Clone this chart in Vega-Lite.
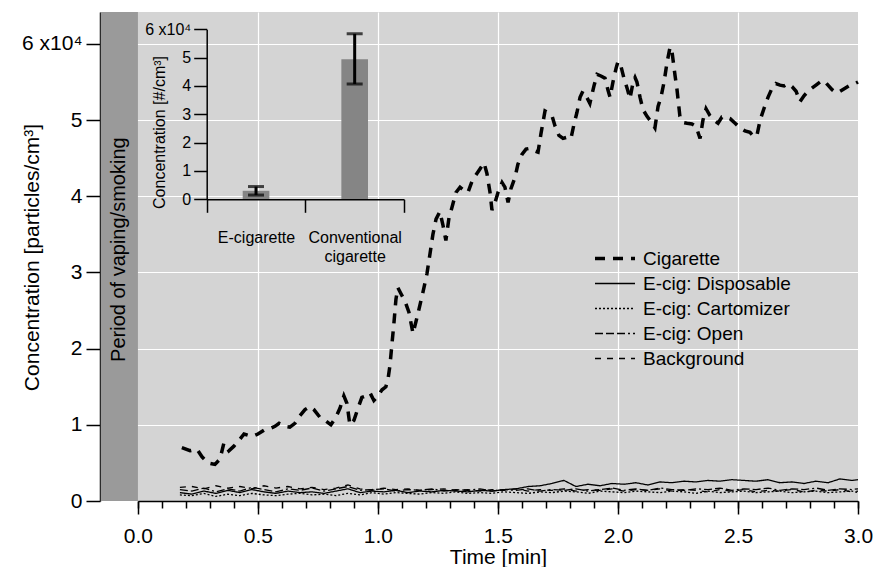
{
  "$schema": "https://vega.github.io/schema/vega-lite/v6.json",
  "width": 758,
  "height": 489,
  "autosize": {"type": "none"},
  "padding": {"left": 100, "top": 12, "right": 16, "bottom": 66},
  "background": "white",
  "config": {
    "view": {"stroke": null, "fill": "#d4d4d4"},
    "font": "Liberation Sans",
    "axis": {
      "labelFont": "Liberation Sans", "titleFont": "Liberation Sans",
      "labelColor": "black", "titleColor": "black", "tickColor": "black", "domainColor": "black",
      "tickWidth": 1.5, "domainWidth": 1.5, "titleFontWeight": "normal",
      "gridColor": "white", "gridWidth": 1.2, "gridOpacity": 1,
      "labelFlush": false, "labelOverlap": false
    },
    "legend": {
      "orient": "none", "legendX": 493, "legendY": 234,
      "symbolType": "stroke", "symbolSize": 1600, "symbolStrokeColor": "black",
      "labelFont": "Liberation Sans", "labelFontSize": 19, "labelColor": "black",
      "clipHeight": 25, "rowPadding": 0, "labelOffset": 6, "padding": 0, "symbolOffset": 0
    }
  },
  "datasets": {
    "cig": [
      {"t":0.183,"v":7000},{"t":0.217,"v":6600},{"t":0.246,"v":6800},{"t":0.267,"v":5800},{"t":0.292,"v":5000},
      {"t":0.321,"v":4800},{"t":0.342,"v":5500},{"t":0.358,"v":7600},{"t":0.379,"v":6600},{"t":0.4,"v":7200},
      {"t":0.417,"v":7800},{"t":0.442,"v":8800},{"t":0.463,"v":8600},{"t":0.479,"v":8500},{"t":0.5,"v":8800},
      {"t":0.525,"v":9300},{"t":0.55,"v":9500},{"t":0.571,"v":9800},{"t":0.588,"v":10200},{"t":0.613,"v":9800},
      {"t":0.633,"v":9700},{"t":0.654,"v":10200},{"t":0.675,"v":11200},{"t":0.696,"v":12000},{"t":0.717,"v":12400},
      {"t":0.733,"v":12000},{"t":0.758,"v":11000},{"t":0.783,"v":10500},{"t":0.804,"v":10000},{"t":0.825,"v":11000},
      {"t":0.842,"v":12200},{"t":0.858,"v":13800},{"t":0.871,"v":12800},{"t":0.883,"v":10000},{"t":0.9,"v":10600},
      {"t":0.917,"v":12200},{"t":0.933,"v":13600},{"t":0.95,"v":13800},{"t":0.967,"v":14200},{"t":0.983,"v":13200},
      {"t":1.0,"v":13800},{"t":1.017,"v":14600},{"t":1.033,"v":15000},{"t":1.042,"v":16000},{"t":1.05,"v":17800},
      {"t":1.058,"v":20500},{"t":1.067,"v":23500},{"t":1.075,"v":26500},{"t":1.083,"v":28000},{"t":1.096,"v":27200},
      {"t":1.113,"v":26200},{"t":1.129,"v":24800},{"t":1.146,"v":22000},{"t":1.158,"v":23500},{"t":1.171,"v":25200},
      {"t":1.188,"v":27500},{"t":1.204,"v":29800},{"t":1.217,"v":32500},{"t":1.229,"v":35000},{"t":1.242,"v":37000},
      {"t":1.258,"v":38000},{"t":1.271,"v":36200},{"t":1.283,"v":34200},{"t":1.296,"v":37200},{"t":1.308,"v":38500},
      {"t":1.325,"v":40500},{"t":1.342,"v":41200},{"t":1.358,"v":40800},{"t":1.375,"v":40500},{"t":1.392,"v":42000},
      {"t":1.408,"v":42800},{"t":1.425,"v":43600},{"t":1.442,"v":44400},{"t":1.454,"v":43000},{"t":1.467,"v":40500},
      {"t":1.475,"v":38200},{"t":1.488,"v":39200},{"t":1.5,"v":40500},{"t":1.517,"v":41800},{"t":1.529,"v":41200},
      {"t":1.542,"v":39200},{"t":1.554,"v":41000},{"t":1.571,"v":42500},{"t":1.583,"v":44200},{"t":1.6,"v":45500},
      {"t":1.617,"v":46200},{"t":1.633,"v":46300},{"t":1.65,"v":46000},{"t":1.667,"v":45800},{"t":1.679,"v":48200},
      {"t":1.696,"v":51200},{"t":1.708,"v":51000},{"t":1.725,"v":50600},{"t":1.738,"v":49200},{"t":1.754,"v":48000},
      {"t":1.771,"v":47600},{"t":1.792,"v":47800},{"t":1.804,"v":47600},{"t":1.817,"v":49500},{"t":1.829,"v":51000},
      {"t":1.842,"v":53000},{"t":1.854,"v":53800},{"t":1.867,"v":53200},{"t":1.883,"v":52200},{"t":1.9,"v":54500},
      {"t":1.913,"v":56000},{"t":1.929,"v":55800},{"t":1.946,"v":55500},{"t":1.958,"v":54000},{"t":1.967,"v":53000},
      {"t":1.979,"v":55000},{"t":1.992,"v":56800},{"t":2.0,"v":57700},{"t":2.013,"v":57000},{"t":2.025,"v":55500},
      {"t":2.038,"v":54200},{"t":2.05,"v":52800},{"t":2.063,"v":55000},{"t":2.071,"v":55600},{"t":2.079,"v":55000},
      {"t":2.092,"v":53000},{"t":2.104,"v":51400},{"t":2.121,"v":50500},{"t":2.138,"v":49800},{"t":2.154,"v":49000},
      {"t":2.167,"v":51800},{"t":2.179,"v":53000},{"t":2.192,"v":55000},{"t":2.204,"v":57500},{"t":2.217,"v":59600},
      {"t":2.225,"v":59000},{"t":2.238,"v":55800},{"t":2.246,"v":54000},{"t":2.258,"v":50500},{"t":2.271,"v":49700},
      {"t":2.288,"v":49600},{"t":2.308,"v":49500},{"t":2.325,"v":49200},{"t":2.342,"v":47600},{"t":2.354,"v":50000},
      {"t":2.367,"v":51500},{"t":2.383,"v":50600},{"t":2.4,"v":50000},{"t":2.417,"v":49600},{"t":2.433,"v":50400},
      {"t":2.45,"v":50400},{"t":2.467,"v":50200},{"t":2.488,"v":49600},{"t":2.508,"v":49000},{"t":2.529,"v":48600},
      {"t":2.55,"v":48400},{"t":2.567,"v":47800},{"t":2.579,"v":48000},{"t":2.592,"v":50000},{"t":2.608,"v":51500},
      {"t":2.625,"v":53000},{"t":2.642,"v":54200},{"t":2.658,"v":54800},{"t":2.675,"v":54600},{"t":2.692,"v":54500},
      {"t":2.708,"v":54800},{"t":2.725,"v":54400},{"t":2.742,"v":53800},{"t":2.758,"v":52400},{"t":2.775,"v":53200},
      {"t":2.792,"v":53800},{"t":2.808,"v":54200},{"t":2.825,"v":54600},{"t":2.842,"v":55000},{"t":2.858,"v":55200},
      {"t":2.875,"v":54600},{"t":2.892,"v":54000},{"t":2.908,"v":53600},{"t":2.925,"v":53800},{"t":2.946,"v":54200},
      {"t":2.967,"v":54600},{"t":2.988,"v":54800},{"t":3.0,"v":55000}
    ],
    "ecig": [
      {"t":0.175,"E-cig: Disposable":1100,"E-cig: Cartomizer":800,"E-cig: Open":1500,"Background":1800},
      {"t":0.225,"E-cig: Disposable":900,"E-cig: Cartomizer":700,"E-cig: Open":1300,"Background":1900},
      {"t":0.275,"E-cig: Disposable":1300,"E-cig: Cartomizer":1000,"E-cig: Open":1700,"Background":1600},
      {"t":0.325,"E-cig: Disposable":1000,"E-cig: Cartomizer":600,"E-cig: Open":1200,"Background":2000},
      {"t":0.375,"E-cig: Disposable":1400,"E-cig: Cartomizer":900,"E-cig: Open":1600,"Background":1700},
      {"t":0.425,"E-cig: Disposable":1100,"E-cig: Cartomizer":700,"E-cig: Open":1300,"Background":1900},
      {"t":0.475,"E-cig: Disposable":1500,"E-cig: Cartomizer":1000,"E-cig: Open":1800,"Background":1600},
      {"t":0.525,"E-cig: Disposable":1200,"E-cig: Cartomizer":800,"E-cig: Open":1500,"Background":2000},
      {"t":0.575,"E-cig: Disposable":1000,"E-cig: Cartomizer":700,"E-cig: Open":1200,"Background":1700},
      {"t":0.625,"E-cig: Disposable":1300,"E-cig: Cartomizer":900,"E-cig: Open":1600,"Background":1900},
      {"t":0.675,"E-cig: Disposable":1100,"E-cig: Cartomizer":1000,"E-cig: Open":1400,"Background":1600},
      {"t":0.725,"E-cig: Disposable":1200,"E-cig: Cartomizer":800,"E-cig: Open":1700,"Background":1800},
      {"t":0.775,"E-cig: Disposable":1000,"E-cig: Cartomizer":900,"E-cig: Open":1300,"Background":1500},
      {"t":0.825,"E-cig: Disposable":1300,"E-cig: Cartomizer":700,"E-cig: Open":1600,"Background":1700},
      {"t":0.875,"E-cig: Disposable":1600,"E-cig: Cartomizer":1000,"E-cig: Open":1900,"Background":2100},
      {"t":0.925,"E-cig: Disposable":1100,"E-cig: Cartomizer":800,"E-cig: Open":1400,"Background":1600},
      {"t":0.975,"E-cig: Disposable":1300,"E-cig: Cartomizer":1100,"E-cig: Open":1500,"Background":1400},
      {"t":1.025,"E-cig: Disposable":1200,"E-cig: Cartomizer":900,"E-cig: Open":1600,"Background":1700},
      {"t":1.075,"E-cig: Disposable":1400,"E-cig: Cartomizer":1100,"E-cig: Open":1300,"Background":1500},
      {"t":1.125,"E-cig: Disposable":1100,"E-cig: Cartomizer":1000,"E-cig: Open":1500,"Background":1600},
      {"t":1.175,"E-cig: Disposable":1300,"E-cig: Cartomizer":900,"E-cig: Open":1400,"Background":1400},
      {"t":1.225,"E-cig: Disposable":1200,"E-cig: Cartomizer":1100,"E-cig: Open":1600,"Background":1500},
      {"t":1.275,"E-cig: Disposable":1400,"E-cig: Cartomizer":1000,"E-cig: Open":1300,"Background":1600},
      {"t":1.325,"E-cig: Disposable":1300,"E-cig: Cartomizer":1200,"E-cig: Open":1500,"Background":1400},
      {"t":1.375,"E-cig: Disposable":1200,"E-cig: Cartomizer":1000,"E-cig: Open":1400,"Background":1500},
      {"t":1.425,"E-cig: Disposable":1400,"E-cig: Cartomizer":1100,"E-cig: Open":1600,"Background":1300},
      {"t":1.475,"E-cig: Disposable":1300,"E-cig: Cartomizer":1000,"E-cig: Open":1300,"Background":1500},
      {"t":1.525,"E-cig: Disposable":1500,"E-cig: Cartomizer":1200,"E-cig: Open":1500,"Background":1400},
      {"t":1.575,"E-cig: Disposable":1600,"E-cig: Cartomizer":1100,"E-cig: Open":1400,"Background":1600},
      {"t":1.625,"E-cig: Disposable":1900,"E-cig: Cartomizer":1000,"E-cig: Open":1600,"Background":1300},
      {"t":1.675,"E-cig: Disposable":2000,"E-cig: Cartomizer":1200,"E-cig: Open":1300,"Background":1500},
      {"t":1.725,"E-cig: Disposable":2300,"E-cig: Cartomizer":1100,"E-cig: Open":1500,"Background":1400},
      {"t":1.775,"E-cig: Disposable":2700,"E-cig: Cartomizer":1300,"E-cig: Open":1400,"Background":1600},
      {"t":1.825,"E-cig: Disposable":1900,"E-cig: Cartomizer":1200,"E-cig: Open":1600,"Background":1300},
      {"t":1.875,"E-cig: Disposable":2200,"E-cig: Cartomizer":1000,"E-cig: Open":1300,"Background":1500},
      {"t":1.925,"E-cig: Disposable":2000,"E-cig: Cartomizer":1300,"E-cig: Open":1500,"Background":1400},
      {"t":1.975,"E-cig: Disposable":2300,"E-cig: Cartomizer":1200,"E-cig: Open":1700,"Background":1600},
      {"t":2.025,"E-cig: Disposable":2200,"E-cig: Cartomizer":1100,"E-cig: Open":1400,"Background":1300},
      {"t":2.075,"E-cig: Disposable":2400,"E-cig: Cartomizer":1300,"E-cig: Open":1600,"Background":1500},
      {"t":2.125,"E-cig: Disposable":2100,"E-cig: Cartomizer":1200,"E-cig: Open":1400,"Background":1400},
      {"t":2.175,"E-cig: Disposable":2500,"E-cig: Cartomizer":1100,"E-cig: Open":1700,"Background":1600},
      {"t":2.225,"E-cig: Disposable":2400,"E-cig: Cartomizer":1300,"E-cig: Open":1500,"Background":1300},
      {"t":2.275,"E-cig: Disposable":2600,"E-cig: Cartomizer":1200,"E-cig: Open":1400,"Background":1500},
      {"t":2.325,"E-cig: Disposable":2500,"E-cig: Cartomizer":1000,"E-cig: Open":1600,"Background":1400},
      {"t":2.375,"E-cig: Disposable":2700,"E-cig: Cartomizer":1300,"E-cig: Open":1500,"Background":1200},
      {"t":2.425,"E-cig: Disposable":2600,"E-cig: Cartomizer":1100,"E-cig: Open":1700,"Background":1500},
      {"t":2.475,"E-cig: Disposable":2800,"E-cig: Cartomizer":1200,"E-cig: Open":1400,"Background":1300},
      {"t":2.525,"E-cig: Disposable":2700,"E-cig: Cartomizer":1300,"E-cig: Open":1600,"Background":1500},
      {"t":2.575,"E-cig: Disposable":2600,"E-cig: Cartomizer":1100,"E-cig: Open":1500,"Background":1200},
      {"t":2.625,"E-cig: Disposable":2800,"E-cig: Cartomizer":1200,"E-cig: Open":1700,"Background":1400},
      {"t":2.675,"E-cig: Disposable":2400,"E-cig: Cartomizer":1300,"E-cig: Open":1400,"Background":1300},
      {"t":2.725,"E-cig: Disposable":2500,"E-cig: Cartomizer":1100,"E-cig: Open":1600,"Background":1500},
      {"t":2.775,"E-cig: Disposable":2300,"E-cig: Cartomizer":1200,"E-cig: Open":1500,"Background":1200},
      {"t":2.825,"E-cig: Disposable":2600,"E-cig: Cartomizer":1300,"E-cig: Open":1700,"Background":1400},
      {"t":2.875,"E-cig: Disposable":2400,"E-cig: Cartomizer":1100,"E-cig: Open":1400,"Background":1300},
      {"t":2.925,"E-cig: Disposable":2900,"E-cig: Cartomizer":1200,"E-cig: Open":1600,"Background":1500},
      {"t":2.975,"E-cig: Disposable":2700,"E-cig: Cartomizer":1300,"E-cig: Open":1500,"Background":1200},
      {"t":3.0,"E-cig: Disposable":2800,"E-cig: Cartomizer":1100,"E-cig: Open":1600,"Background":1300}
    ],
    "inset": [
      {"cat": "E-cigarette", "v": 3000, "lo": 1500, "hi": 4500},
      {"cat": "Conventional cigarette", "v": 49400, "lo": 40700, "hi": 58400}
    ]
  },
  "layer": [
    {
      "data": {"name": "cig"},
      "encoding": {
        "x": {
          "field": "t", "type": "quantitative",
          "scale": {"domain": [-0.158, 3], "nice": false, "zero": false},
          "axis": {"orient": "bottom", "values": [0,0.1,0.2,0.3,0.4,0.5,0.6,0.7,0.8,0.9,1,1.1,1.2,1.3,1.4,1.5,1.6,1.7,1.8,1.9,2,2.1,2.2,2.3,2.4,2.5,2.6,2.7,2.8,2.9,3], "tickSize": 7, "labels": false, "domain": false, "grid": false, "title": null}
        },
        "y": {
          "field": "v", "type": "quantitative",
          "scale": {"domain": [0, 64200], "nice": false, "zero": false},
          "axis": {
            "values": [0,10000,20000,30000,40000,50000,60000], "tickSize": 14, "labelFontSize": 21, "labelPadding": 4,
            "labelExpr": "datum.value == 60000 ? '6 x10⁴' : format(datum.value/10000, 'd')",
            "title": "Concentration [particles/cm³]", "titleFontSize": 21, "titleX": -62, "titleY": 245,
            "titleAngle": 270, "titleBaseline": "alphabetic", "titleAlign": "center", "grid": true
          }
        }
      },
      "layer": [
        {
          "mark": {"type": "rect", "color": "#9a9a9a"},
          "transform": [{"filter": "datum.t == 3.0"}],
          "encoding": {
            "x": {"datum": -0.155, "type": "quantitative"},
            "x2": {"datum": 0},
            "y": {"datum": 0, "type": "quantitative"},
            "y2": {"datum": 64200}
          }
        },
        {
          "mark": {"type": "text", "text": "Period of vaping/smoking", "angle": 270, "fontSize": 20, "font": "Liberation Sans", "color": "black", "align": "center", "baseline": "middle"},
          "transform": [{"filter": "datum.t == 3.0"}],
          "encoding": {
            "x": {"datum": -0.08, "type": "quantitative"},
            "y": {"datum": 33000, "type": "quantitative"}
          }
        },
        {
          "mark": {"type": "line", "color": "black", "strokeCap": "butt"},
          "encoding": {
            "strokeDash": {
              "datum": "Cigarette", "type": "nominal", "title": null,
              "scale": {"domain": ["Cigarette", "E-cig: Disposable", "E-cig: Cartomizer", "E-cig: Open", "Background"], "range": [[10, 8], [1, 0], [2, 2], [8, 3, 8, 3, 8, 3, 2, 3], [6, 6]]}
            },
            "strokeWidth": {
              "datum": "Cigarette", "type": "nominal", "title": null,
              "scale": {"type": "ordinal", "domain": ["Cigarette", "E-cig: Disposable", "E-cig: Cartomizer", "E-cig: Open", "Background"], "range": [3.5, 1.3, 1.3, 1.3, 1.3]}
            }
          }
        }
      ]
    },
    {
      "data": {"name": "ecig"},
      "transform": [{"fold": ["E-cig: Disposable", "E-cig: Cartomizer", "E-cig: Open", "Background"], "as": ["series", "v"]}],
      "mark": {"type": "line", "color": "black", "strokeCap": "butt"},
      "encoding": {
        "x": {
          "field": "t", "type": "quantitative",
          "scale": {"domain": [0, 3], "range": [37.9, 758], "nice": false, "zero": false},
          "axis": {"orient": "bottom", "values": [0, 0.5, 1, 1.5, 2, 2.5, 3], "format": ".1f", "tickSize": 13, "labelFontSize": 21, "labelPadding": 11, "title": "Time [min]", "titleFontSize": 21, "titleY": 62, "titleBaseline": "alphabetic", "grid": true,
            "gridOpacity": {"condition": {"test": "datum.value == 0 || datum.value == 3", "value": 0}, "value": 1}}
        },
        "y": {"field": "v", "type": "quantitative", "scale": {"domain": [0, 64200], "nice": false, "zero": false}, "axis": null},
        "strokeDash": {
          "field": "series", "type": "nominal", "title": null,
          "scale": {"domain": ["Cigarette", "E-cig: Disposable", "E-cig: Cartomizer", "E-cig: Open", "Background"], "range": [[10, 8], [1, 0], [2, 2], [8, 3, 8, 3, 8, 3, 2, 3], [6, 6]]}
        },
        "strokeWidth": {
          "field": "series", "type": "nominal", "title": null,
          "scale": {"type": "ordinal", "domain": ["Cigarette", "E-cig: Disposable", "E-cig: Cartomizer", "E-cig: Open", "Background"], "range": [3.5, 1.3, 1.3, 1.3, 1.3]}
        }
      }
    },
    {
      "data": {"name": "inset"},
      "encoding": {
        "x": {
          "field": "cat", "type": "nominal",
          "scale": {"domain": ["E-cigarette", "Conventional cigarette"], "range": [106.7, 304], "paddingInner": 0, "paddingOuter": 0},
          "axis": {"orient": "bottom", "offset": -301.7, "tickBand": "extent", "tickSize": 13, "labelFontSize": 16, "labelPadding": 17, "labelAngle": 0, "labelExpr": "split(datum.label, ' ')", "labelLineHeight": 19, "title": null, "grid": false, "zindex": 1}
        },
        "y": {
          "field": "v", "type": "quantitative",
          "scale": {"domain": [0, 60000], "range": [187.3, 17.3], "nice": false, "zero": false},
          "axis": {
            "orient": "left", "offset": -106.7, "values": [0,10000,20000,30000,40000,50000,60000], "tickSize": 13,
            "labelFontSize": 16, "labelPadding": 3,
            "labelExpr": "datum.value == 60000 ? '6 x10⁴' : format(datum.value/10000, 'd')",
            "title": "Concentration [#/cm³]", "titleFontSize": 16, "titleX": -42, "titleY": 120,
            "titleAngle": 270, "titleBaseline": "alphabetic", "titleAlign": "center", "grid": false, "zindex": 1
          }
        }
      },
      "layer": [
        {
          "mark": {"type": "bar", "color": "#858585", "width": {"band": 0.27}}
        },
        {
          "mark": {"type": "rule", "color": "black", "strokeWidth": 3},
          "encoding": {
            "y": {"field": "lo", "type": "quantitative"},
            "y2": {"field": "hi"}
          }
        },
        {
          "mark": {"type": "tick", "color": "black", "size": 16, "thickness": 3},
          "encoding": {
            "y": {"field": "lo", "type": "quantitative"}
          }
        },
        {
          "mark": {"type": "tick", "color": "black", "size": 16, "thickness": 3},
          "encoding": {
            "y": {"field": "hi", "type": "quantitative"}
          }
        }
      ]
    }
  ],
  "resolve": {"scale": {"x": "independent", "y": "independent"}, "axis": {"x": "independent", "y": "independent"}}
}
